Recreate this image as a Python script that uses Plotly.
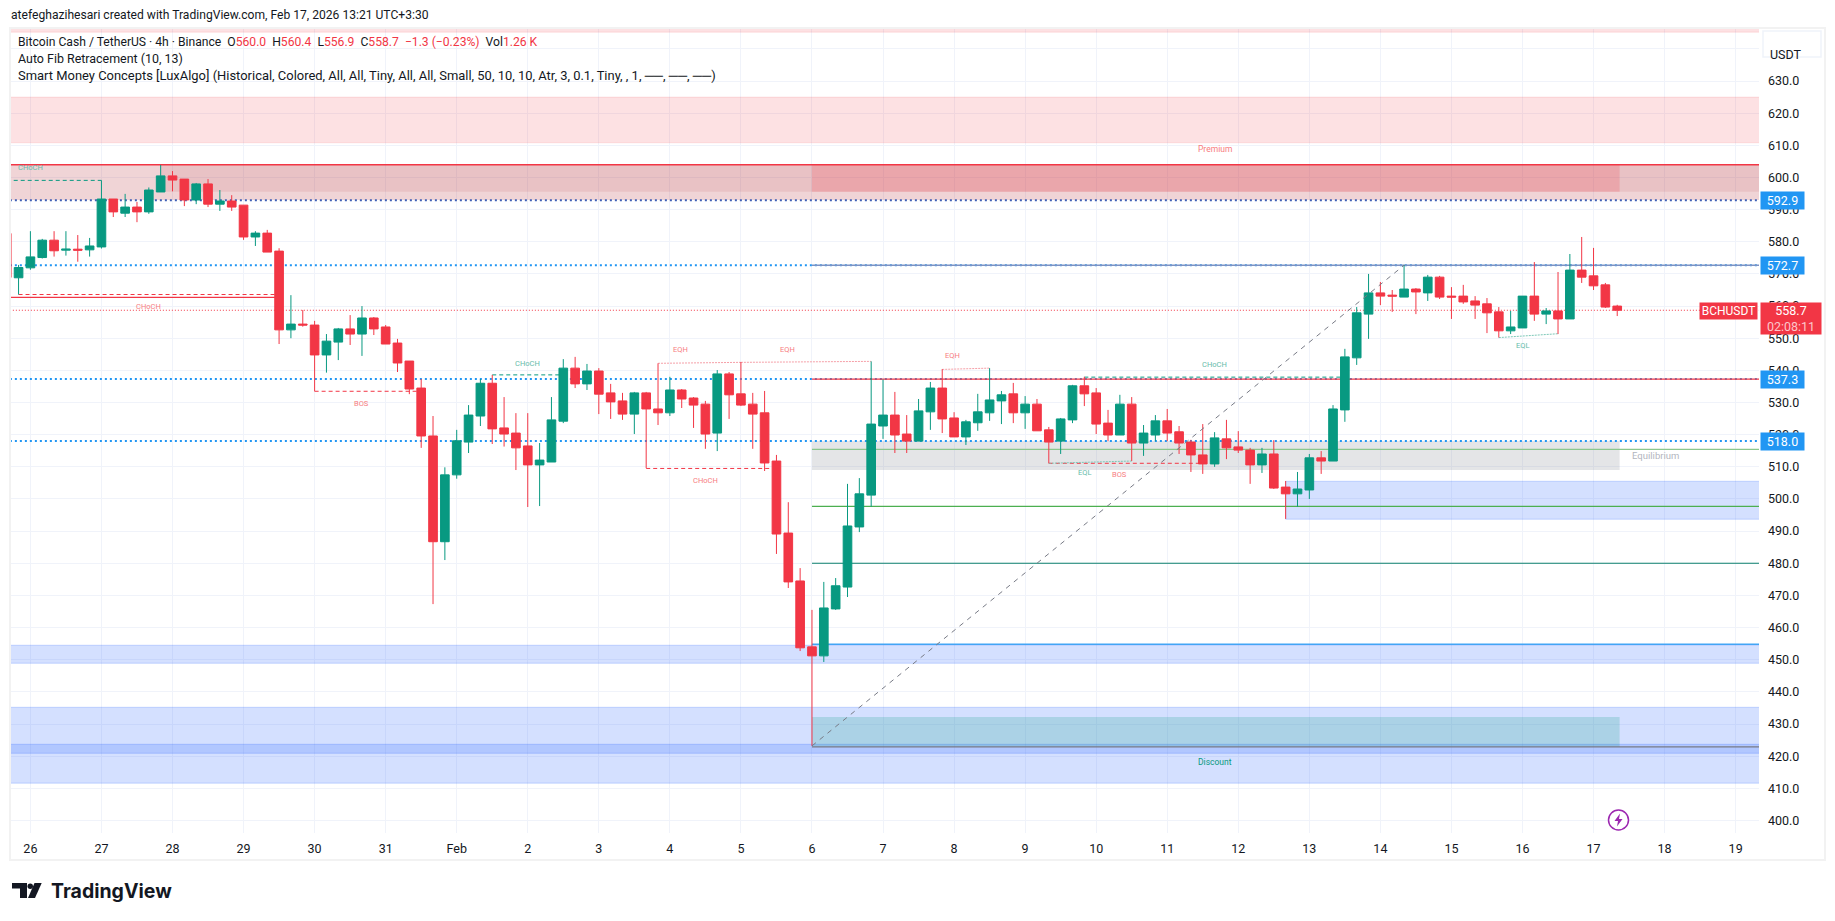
import plotly.graph_objects as go

# ---------- data ----------
bar_index = list(range(-2, 135))
open_ = [582.6,568.8,571.9,575.1,580.5,577.4,577.7,577.5,578.4,593.3,588.9,590.8,589.3,595.5,600.5,599.5,593.0,598.0,591.7,592.7,591.4,581.5,582.7,577.1,552.6,554.4,554.1,544.8,548.8,552.9,551.3,556.3,553.5,548.5,542.9,534.5,519.6,486.7,507.5,517.7,525.8,536.0,522.1,520.5,516.5,510.6,511.5,524.2,540.7,535.8,539.8,533.0,530.5,526.4,533.0,528.0,526.8,533.9,531.4,529.5,520.5,538.9,532.7,529.5,526.8,511.8,489.4,474.5,454.0,451.2,465.8,472.6,491.3,501.2,522.7,526.1,520.2,518.0,527.1,534.5,525.2,519.3,523.7,526.8,530.5,532.7,526.8,529.5,521.5,518.0,524.6,535.2,533.0,523.6,519.9,529.5,517.4,519.9,524.3,520.9,517.7,513.7,510.9,518.7,516.2,515.2,510.6,514.0,503.7,501.6,502.8,512.8,511.8,527.7,543.9,557.5,564.1,563.4,562.8,565.3,564.1,569.0,563.1,563.1,561.6,560.7,558.2,552.3,553.2,563.1,557.5,558.5,556.0,571.2,569.4,566.6,560.0]
high = [582.6,572.8,583.3,580.9,583.3,583.3,582.1,581.2,599.1,593.3,594.9,592.4,596.9,603.9,602.0,599.5,598.3,599.5,596.1,594.5,591.4,583.3,583.7,578.0,563.4,558.8,555.4,551.3,553.2,557.2,560.0,556.6,554.1,549.8,542.9,537.3,525.8,509.85,521.5,529.2,537.3,538.6,531.7,526.7,526.7,517.4,531.7,543.5,544.2,542.0,540.7,535.8,533.0,533.3,533.3,542.2,538.0,534.2,531.7,530.5,540.1,539.5,542.6,533.0,533.6,513.7,499.0,478.5,465.5,474.2,475.4,504.7,506.5,542.8,537.2,533.3,526.1,531.1,536.4,540.4,527.0,524.6,532.7,540.7,533.6,536.1,532.0,531.1,522.4,525.2,535.5,538.0,534.5,527.7,532.4,531.7,523.0,526.1,528.0,522.7,518.4,523.3,520.8,524.6,521.1,515.9,515.9,518.3,505.6,508.4,514.0,514.9,529.2,546.7,559.7,570.0,567.5,565.0,572.8,565.6,569.7,569.4,565.9,566.6,563.1,562.5,559.7,558.5,563.1,573.7,559.4,570.6,576.2,581.5,578.1,567.2,560.4]
low = [568.9,563.6,571.3,574.8,575.4,575.7,573.8,575.4,577.9,587.7,587.7,586.1,588.7,595.5,595.7,591.1,591.7,590.8,589.6,589.6,580.6,578.7,576.8,548.2,550.0,553.6,533.5,539.3,543.2,547.9,544.5,551.0,548.2,539.5,532.6,515.9,467.3,481.0,506.3,514.3,522.7,517.1,516.3,509.0,497.5,497.8,511.5,523.6,534.5,533.9,526.4,524.9,524.6,520.2,509.6,523.0,525.8,528.3,522.1,515.6,514.9,524.9,528.9,515.6,508.7,482.9,472.3,452.7,423.2,449.3,465.5,469.5,489.7,497.6,518.7,514.3,514.3,518.0,521.5,520.5,519.3,516.8,521.2,524.3,523.3,523.6,521.8,521.2,511.1,514.0,523.6,528.9,520.2,518.0,519.9,511.8,513.4,518.0,518.0,514.0,508.4,507.8,510.0,512.4,514.3,504.7,508.1,503.1,493.8,497.6,500.0,507.8,511.8,524.0,541.7,549.8,560.3,558.2,562.8,557.5,561.6,562.2,556.0,560.7,556.0,551.6,550.2,551.3,553.2,555.4,554.4,551.3,556.0,567.2,565.0,559.4,556.9]
close = [568.9,572.0,575.3,580.5,577.2,577.7,577.4,578.7,593.3,589.3,590.8,589.3,596.1,600.5,599.2,593.0,598.0,591.7,592.7,590.8,581.5,582.7,576.8,552.6,554.4,554.1,544.8,549.1,552.9,551.3,556.3,552.9,548.2,542.3,534.2,519.6,486.7,507.5,518.1,526.1,536.0,521.8,520.2,515.9,510.6,512.1,524.6,540.7,535.8,539.8,532.6,530.2,526.4,533.0,528.0,526.8,533.9,531.1,529.2,520.2,538.9,532.4,529.2,526.4,511.2,489.1,474.2,453.7,451.2,466.1,473.0,491.6,501.6,523.3,526.1,519.9,518.0,527.4,534.5,524.9,519.3,524.0,527.1,530.8,532.4,526.8,529.5,521.2,517.7,524.9,535.2,532.7,523.3,519.9,529.5,517.4,520.5,524.3,520.5,517.4,513.7,510.9,519.0,515.9,515.2,510.6,514.0,503.4,501.6,503.1,512.8,511.8,528.0,544.2,557.9,564.1,563.1,563.1,565.3,564.4,569.0,562.8,562.8,561.3,560.3,557.9,552.3,553.5,563.1,557.5,558.5,556.0,571.2,569.0,566.3,559.7,558.7]

day_labels = ["26","27","28","29","30","31","Feb","2","3","4","5","6","7","8","9","10","11","12","13","14","15","16","17","18","19"]
price_ticks = [400,410,420,430,440,450,460,470,480,490,500,510,520,530,540,550,560,570,580,590,600,610,620,630,640]
hidden_tick = 640

zone_bottom = [593.0,595.6,595.6,509.0,448.9,411.6,420.9,493.7,422.9,610.8,645.2]
zone_top    = [604.0,604.0,604.0,518.0,454.5,435.2,423.7,505.5,432.2,625.0,650.0]
zone_start  = [-3,11,66,66,-3,-3,-3,106,66,-3,-3]
zone_end    = [150,150,134.2,134.2,150,150,150,150,134.2,150,150]
zone_fill = ["rgba(178,40,51,0.2)","rgba(178,40,51,0.1)","rgba(242,54,69,0.2)","rgba(120,123,134,0.2)",
             "rgba(41,98,255,0.2)","rgba(41,98,255,0.2)","rgba(41,98,255,0.2)","rgba(41,98,255,0.2)","rgba(8,153,129,0.2)","rgba(242,54,69,0.15)","rgba(242,54,69,0.15)"]
zone_edge = ["rgba(0,0,0,0)","rgba(0,0,0,0)","rgba(0,0,0,0)","rgba(0,0,0,0)",
             "rgba(41,98,255,0.22)","rgba(41,98,255,0.22)","rgba(41,98,255,0.22)","rgba(41,98,255,0.22)","rgba(0,0,0,0)","rgba(242,54,69,0.12)","rgba(242,54,69,0.12)"]

level_price = [592.9,572.7,537.3,518.0]
level_label = ["592.9","572.7","537.3","518.0"]
level_dotcolor = ["#3f5fb5","#2196f3","#2196f3","#2196f3"]

line_y0 = [604.0,562.7,572.7,537.3,515.4,497.7,480.0,454.8,422.9]
line_x0 = [-3,-3,66,66,66,66,66,66,66]
line_x1 = [150,21,150,150,150,150,150,150,150]
line_color = ["#f23645","#f23645","#7c93c4","#f23645","#8ac78c","#4caf50","#0b7f6c","#42a5f5","#787b86"]
line_width = [1.5,1.3,1.3,1.2,1.2,1.2,1.2,1.5,1.2]

struct_x0 = [-2,-1,24,39,52,86,89]
struct_x1 = [6,21,32.7,45,62.6,99,111]
struct_y  = [599.1,563.6,533.5,538.6,509.5,511.1,537.9]
struct_col= ["#089981","#f23645","#f23645","#089981","#f23645","#f23645","#089981"]

eq_x0 = [53,60,77,86,124]
eq_y0 = [542.2,542.5,540.3,511.1,550.2]
eq_x1 = [60,71,81,93,129]
eq_y1 = [542.5,542.8,540.7,511.8,551.4]
eq_col = ["#f6a0a8","#f6a0a8","#f6a0a8","#7cc8b8","#7cc8b8"]

tag_text = ["CHoCH","CHoCH","BOS","CHoCH","EQH","EQH","CHoCH","EQH","EQL","BOS","CHoCH","EQL","Premium","Discount","Equilibrium"]
tag_x = [0,10,28,42,54.9,63.9,57,77.9,89,92,100,126,100,100,137.2]
tag_y = [603.2,559.9,529.7,542.2,546.6,546.6,505.8,544.7,508.2,507.7,541.9,547.7,609.0,418.2,513.5]
tag_col = ["#66bbaa","#f77c80","#f77c80","#66bbaa","#f77c80","#f77c80","#f77c80","#f77c80","#66bbaa","#f77c80","#66bbaa","#66bbaa","#f77c80","#089981","#b2b5be"]
tag_size = [7.5,7.5,7.5,7.5,7.5,7.5,7.5,7.5,7.5,7.5,7.5,7.5,8.5,8.5,9.5]

fib_x = [66,116]
fib_y = [423.2,572.7]

last_price = 558.7

# ---------- layout constants ----------
W, H = 1835, 921
L, R, T, B = 10, 1759, 28, 833
FONT = "Roboto, sans-serif"
def xp(px): return (px - L) / (R - L)
def yp(py): return 1 - (py - T) / (B - T)

UP, DOWN = "#089981", "#f23645"
fig = go.Figure()
fig.add_trace(go.Scatter(x=fib_x, y=fib_y, mode="lines", showlegend=False, hoverinfo="skip",
                         line=dict(color="#787b86", width=1, dash="5px,5px")))
fig.add_trace(go.Candlestick(
    x=bar_index, open=open_, high=high, low=low, close=close,
    increasing=dict(line=dict(color=UP, width=1), fillcolor=UP),
    decreasing=dict(line=dict(color=DOWN, width=1), fillcolor=DOWN),
    whiskerwidth=0, hoverinfo="skip", showlegend=False))

LAYER = "between"
shapes = []
for b, t, x0, x1, f, e in zip(zone_bottom, zone_top, zone_start, zone_end, zone_fill, zone_edge):
    shapes.append(dict(type="rect", xref="x", yref="y", x0=x0, x1=x1, y0=b, y1=t, fillcolor=f,
                       line=dict(color=e, width=1), layer=LAYER))
for p, c in zip(level_price, level_dotcolor):
    shapes.append(dict(type="line", xref="x", yref="y", x0=-3, x1=150, y0=p, y1=p,
                       line=dict(color=c, width=2, dash="2px,3px"), layer=LAYER))
for p, x0, x1, c, w in zip(line_y0, line_x0, line_x1, line_color, line_width):
    shapes.append(dict(type="line", xref="x", yref="y", x0=x0, x1=x1, y0=p, y1=p,
                       line=dict(color=c, width=w), layer=LAYER))
for x0, x1, y, c in zip(struct_x0, struct_x1, struct_y, struct_col):
    shapes.append(dict(type="line", xref="x", yref="y", x0=x0, x1=x1, y0=y, y1=y,
                       line=dict(color=c, width=1, dash="4px,3px"), layer=LAYER))
for x0, y0, x1, y1, c in zip(eq_x0, eq_y0, eq_x1, eq_y1, eq_col):
    shapes.append(dict(type="line", xref="x", yref="y", x0=x0, x1=x1, y0=y0, y1=y1,
                       line=dict(color=c, width=1, dash="2px,1px"), layer=LAYER))
shapes.append(dict(type="line", xref="x", yref="y", x0=-3, x1=150, y0=last_price, y1=last_price,
                   line=dict(color=DOWN, width=1, dash="1px,2px"), layer=LAYER))

# frame of the chart
def prect(x0, y0, x1, y1, **kw):
    return dict(type="rect", xref="paper", yref="paper", x0=xp(x0), x1=xp(x1), y0=yp(y0), y1=yp(y1), **kw)
shapes.append(prect(10, 28, 1825, 860, line=dict(color="#f2f2f2", width=2), fillcolor="rgba(0,0,0,0)", layer="above"))
shapes.append(prect(1763, 31, 1821, 57, line=dict(color="#f0f3fa", width=1.5), fillcolor="#ffffff", layer="above"))

# TradingView logo
def ppath(points):
    s = "M " + " L ".join(f"{xp(a):.5f},{yp(b):.5f}" for a, b in points) + " Z"
    return dict(type="path", xref="paper", yref="paper", path=s, fillcolor="#131722", line=dict(width=0), layer="above")
shapes.append(ppath([(12,883),(27,883),(27,898),(20,898),(20,888.5),(12,888.5)]))
shapes.append(dict(type="circle", xref="paper", yref="paper", x0=xp(27.5), x1=xp(33), y0=yp(889), y1=yp(883.5),
                   fillcolor="#131722", line=dict(width=0), layer="above"))
shapes.append(ppath([(34.5,883),(41.7,883),(35,898),(28,898)]))

# bolt icon
shapes.append(dict(type="circle", xref="paper", yref="paper", x0=xp(1608.5), x1=xp(1628.5), y0=yp(830), y1=yp(810),
                   fillcolor="#ffffff", line=dict(color="#9c27b0", width=1.5), layer="above"))
shapes.append(dict(type="path", xref="paper", yref="paper", layer="above", fillcolor="#9c27b0", line=dict(width=0),
                   path="M " + " L ".join(f"{xp(a):.5f},{yp(b):.5f}" for a, b in
                        [(1620,813.5),(1614.5,821),(1618,821),(1617,826.5),(1622.5,819),(1619,819)]) + " Z"))

ann = []
for t, x, y, c, s in zip(tag_text, tag_x, tag_y, tag_col, tag_size):
    ann.append(dict(text=t, x=x, y=y, xref="x", yref="y", showarrow=False, xanchor="center",
                    font=dict(family=FONT, size=s, color=c)))
for p, t in zip(level_price, level_label):
    ann.append(dict(text=t, x=xp(1760), y=p, xref="paper", yref="y", xanchor="left", yanchor="middle", showarrow=False,
                    bgcolor="#2196f3", width=43, height=17, borderpad=0,
                    font=dict(family=FONT, size=12.5, color="#ffffff")))
ann.append(dict(text="558.7<br><span style='color:#fcc7cb'>02:08:11</span>", x=xp(1760), y=yp(302), xref="paper", yref="paper",
                xanchor="left", yanchor="top", showarrow=False, bgcolor=DOWN, width=60, height=31, borderpad=0,
                font=dict(family=FONT, size=12.5, color="#ffffff")))
ann.append(dict(text="BCHUSDT", x=xp(1758), y=yp(302), xref="paper", yref="paper", xanchor="right", yanchor="top",
                showarrow=False, bgcolor=DOWN, width=57, height=16, borderpad=0,
                font=dict(family=FONT, size=12, color="#ffffff")))
ann.append(dict(text="USDT", x=xp(1786), y=yp(45), xref="paper", yref="paper", showarrow=False, xanchor="center",
                font=dict(family=FONT, size=12.5, color="#131722")))

def top_text(t, px, py, size=12.8, color="#131722", family=FONT):
    return dict(text=t, x=xp(px), y=yp(py), xref="paper", yref="paper", xanchor="left", yanchor="middle",
                showarrow=False, align="left", font=dict(family=family, size=size, color=color))
ann.append(top_text("atefeghazihesari created with TradingView.com, Feb 17, 2026 13:21 UTC+3:30", 9, 15, size=12.1))
r = "<span style='color:#f23645'>%s</span>"
ann.append(top_text("Bitcoin Cash / TetherUS · 4h · Binance  O" + r % "560.0" + "  H" + r % "560.4" + "  L" + r % "556.9" +
                    "  C" + r % "558.7" + "  " + r % "−1.3 (−0.23%)" + "  Vol" + r % "1.26 K", 16, 41.5, size=12.15))
ann.append(top_text("Auto Fib Retracement (10, 13)", 16, 59, size=12.45))
ann.append(top_text("Smart Money Concepts [LuxAlgo] (Historical, Colored, All, All, Tiny, All, All, Small, 50, 10, 10, Atr, 3, 0.1, Tiny, , 1, ──, ──, ──)", 16, 76, size=12.95))
ann.append(top_text("<b>TradingView</b>", 49, 891, size=19.5, family="Inter, sans-serif"))

fig.update_layout(
    width=W, height=H, autosize=False, paper_bgcolor="#ffffff", plot_bgcolor="#ffffff",
    margin=dict(l=L, r=W - R, t=T, b=H - B), boxgap=0.27, boxgroupgap=0, showlegend=False, hovermode=False,
    font=dict(family=FONT), shapes=shapes, annotations=ann,
    xaxis=dict(range=[(L - 30.4) / 11.842, (R - 30.4) / 11.842], rangeslider=dict(visible=False), showgrid=True,
               gridcolor="#f0f3fa", gridwidth=1, zeroline=False, showline=False, ticks="",
               tickvals=[i * 6 for i in range(len(day_labels))], ticktext=day_labels, tickangle=0,
               tickfont=dict(family=FONT, size=12.5, color="#131722"), ticklabelstandoff=6),
    yaxis=dict(range=[396.1, 646.5], side="right", showgrid=True, gridcolor="#f0f3fa", gridwidth=1, zeroline=False,
               showline=False, ticks="", tickvals=price_ticks,
               ticktext=["" if v == hidden_tick else f"{v:.1f}" for v in price_ticks],
               tickfont=dict(family=FONT, size=12.5, color="#131722"), ticklabelstandoff=8),
)
fig.write_html("out.html", config=dict(displayModeBar=False),
               post_script="document.body.style.margin='0';document.documentElement.style.overflow='hidden';")
